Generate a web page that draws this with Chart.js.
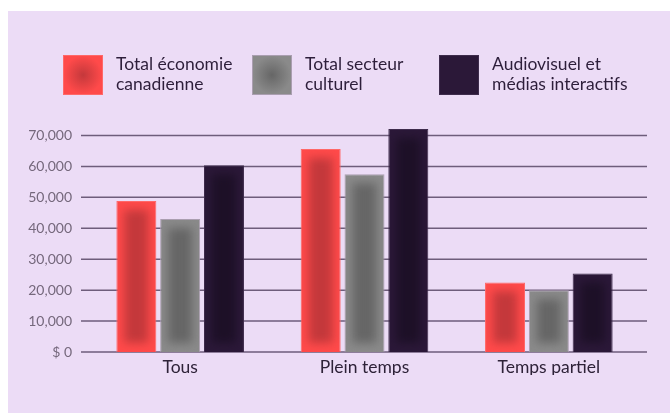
<!DOCTYPE html>
<html lang="fr">
<head>
<meta charset="utf-8">
<script src="https://cdn.jsdelivr.net/npm/chart.js@4/dist/chart.umd.min.js"></script>
<style>
  html, body { margin: 0; padding: 0; background: #fff; }
  body { width: 670px; height: 413px; position: relative; overflow: hidden; font-family: Lato, sans-serif; }
  .panel { position: absolute; left: 8px; top: 11px; right: 0; bottom: 0; background: #ecdcf6; }
  #chart { position: absolute; left: 0; top: 0; }
  #legend { position: absolute; left: 63px; top: 55px; display: grid; grid-template-columns: 189px 187px auto; }
  .item { display: flex; align-items: flex-start; }
  .box { width: 40px; height: 40px; box-sizing: border-box; border: 1px solid; margin-right: 13px; flex: none; }
  .txt { font-size: 17.5px; line-height: 20px; color: #2d1e3a; white-space: pre-line; margin-top: -1px; }
</style>
</head>
<body>
<div class="panel"></div>
<canvas id="chart" width="670" height="413"></canvas>
<div id="legend"></div>
<script>
// ── DATA ─────────────────────────────────────────
const CATEGORIES     = ['Tous', 'Plein temps', 'Temps partiel'];
const SERIES_NAMES   = ['Total économie\ncanadienne', 'Total secteur\nculturel', 'Audiovisuel et\nmédias interactifs'];
const TOTAL_ECONOMIE = [48800, 65600, 22500];
const TOTAL_CULTURE  = [43000, 57500, 20000];
const AUDIOVISUEL    = [60400, 72100, 25400];
const Y_TICKS        = [0, 10000, 20000, 30000, 40000, 50000, 60000, 70000];

// ── STYLE ────────────────────────────────────────
const PALETTE = [
  { edge: '#ff4a4a', core: '#c4383b', border: '#ff6868' },
  { edge: '#8a8a8a', core: '#666666', border: '#aa9eb0' },
  { edge: '#2b1838', core: '#1d1027', border: '#3e2c4c' },
];
const SERIES = [TOTAL_ECONOMIE, TOTAL_CULTURE, AUDIOVISUEL];
const fmt = v => v === 0 ? '$ 0' : v.toLocaleString('en-US');

// grid lines run a little past the plot on both sides
const gridLines = {
  id: 'gridLines',
  beforeDatasetsDraw(chart) {
    const { ctx, chartArea, scales: { y } } = chart;
    ctx.save();
    ctx.strokeStyle = '#6e5d7b';
    ctx.lineWidth = 1.5;
    y.ticks.forEach(t => {
      const py = y.getPixelForValue(t.value);
      ctx.beginPath();
      ctx.moveTo(chartArea.left - 7, py);
      ctx.lineTo(chartArea.right + 6, py);
      ctx.stroke();
    });
    ctx.restore();
  }
};

// soft darker core inside each bar
const glow = {
  id: 'glow',
  afterDatasetsDraw(chart) {
    const ctx = chart.ctx;
    chart.data.datasets.forEach((ds, i) => {
      const core = PALETTE[i].core;
      chart.getDatasetMeta(i).data.forEach(bar => {
        const { x, y, base, width } = bar.getProps(['x', 'y', 'base', 'width'], true);
        const left = x - width / 2, h = base - y;
        ctx.save();
        ctx.beginPath();
        ctx.rect(left + 1, y + 1, width - 2, h - 1);
        ctx.clip();
        ctx.filter = 'blur(5px)';
        ctx.fillStyle = core;
        ctx.fillRect(left + 8, y + 9, width - 16, h - 18);
        ctx.restore();
      });
    });
  }
};

// ── LEGEND (html) ────────────────────────────────
document.getElementById('legend').innerHTML = SERIES_NAMES.map((n, i) => {
  const p = PALETTE[i];
  const bg = i < 2 ? `radial-gradient(circle closest-side, ${p.core} 0%, ${p.edge} 100%)` : p.edge;
  return `<div class="item"><div class="box" style="background:${bg};border-color:${p.border}"></div><div class="txt">${n}</div></div>`;
}).join('');

// ── CHART ────────────────────────────────────────
new Chart(document.getElementById('chart'), {
  type: 'bar',
  data: {
    labels: CATEGORIES,
    datasets: SERIES.map((d, i) => ({
      label: SERIES_NAMES[i].replace('\n', ' '),
      data: d,
      backgroundColor: PALETTE[i].edge,
      borderColor: PALETTE[i].border,
      borderWidth: 1,
      barPercentage: 0.913,
      categoryPercentage: 0.713,
    }))
  },
  options: {
    responsive: false,
    animation: false,
    layout: { padding: { top: 120, right: 29, bottom: 38, left: 0 } },
    plugins: { legend: { display: false }, tooltip: { enabled: false } },
    scales: {
      x: {
        grid: { display: false },
        border: { display: false },
        ticks: { color: '#2e2238', font: { family: 'Lato', size: 17.5 }, padding: -3 }
      },
      y: {
        min: 0, max: 75000,
        grid: { display: false },
        border: { display: false },
        afterBuildTicks: s => { s.ticks = Y_TICKS.map(v => ({ value: v })); },
        afterFit: s => { s.width = 88; },
        ticks: { color: '#75687c', font: { family: 'Lato', size: 14 }, padding: 8, callback: v => fmt(v) }
      }
    }
  },
  plugins: [gridLines, glow]
});
</script>
</body>
</html>
